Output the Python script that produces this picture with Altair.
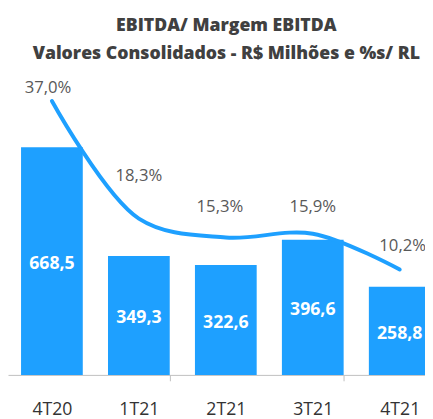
import altair as alt
import pandas as pd

categories = ["4T20", "1T21", "2T21", "3T21", "4T21"]
ebitda = [668.5, 349.3, 322.6, 396.6, 258.8]
margem = [37.0, 18.3, 15.3, 15.9, 10.2]
ebitda_labels = ["668,5", "349,3", "322,6", "396,6", "258,8"]
margem_labels = ["37,0%", "18,3%", "15,3%", "15,9%", "10,2%"]

# label offsets (styling) for percent labels, per point
pct_dx = [-4, 0, -6, 0, 3]
pct_dy = [-13, -43, -31, -27, -24]

df = pd.DataFrame({
    "cat": categories,
    "ebitda": ebitda,
    "margem": margem,
    "elab": ebitda_labels,
    "mlab": margem_labels,
})
df["half"] = df["ebitda"] / 2

BLUE = "#1ea0ff"
FONT = "Open Sans"

tick_test = (
    "(datum.index > 0.22 && datum.index < 0.28) || "
    "(datum.index > 0.38 && datum.index < 0.42) || "
    "(datum.index > 0.72 && datum.index < 0.82)"
)

x = alt.X(
    "cat:N",
    sort=categories,
    title=None,
    scale=alt.Scale(range=[0, 444], paddingInner=0.29, paddingOuter=0.15),
    axis=alt.Axis(
        labelAngle=0,
        labelFont=FONT,
        labelFontSize=18,
        labelColor="#333333",
        labelPadding=20,
        domainColor="#bfbfbf",
        domainWidth=1,
        ticks=True,
        tickColor="#bfbfbf",
        tickOpacity={"condition": {"test": tick_test, "value": 1}, "value": 0},
        tickSize=6,
        tickWidth=1,
        tickBand="extent",
    ),
)

ybar = alt.Scale(domain=[0, 887], nice=False, zero=True)
yline = alt.Scale(domain=[-6.55, 41.5], nice=False, zero=False)

bars = alt.Chart(df).mark_bar(color=BLUE).encode(
    x=x,
    y=alt.Y("ebitda:Q", scale=ybar, axis=None),
)

bar_text = alt.Chart(df).mark_text(
    color="white", font=FONT, fontSize=18, fontWeight="bold", baseline="middle", dy=3
).encode(
    x=alt.X("cat:N", sort=categories),
    y=alt.Y("half:Q", scale=ybar, axis=None),
    text="elab:N",
)

line = alt.Chart(df).mark_line(
    color=BLUE, strokeWidth=4, interpolate="catmull-rom", strokeCap="round"
).encode(
    x=alt.X("cat:N", sort=categories),
    y=alt.Y("margem:Q", scale=yline, axis=None),
)

pct_layers = []
for i, c in enumerate(categories):
    pct_layers.append(
        alt.Chart(df[df["cat"] == c]).mark_text(
            color="#595959", font=FONT, fontSize=17, baseline="middle",
            dx=pct_dx[i], dy=pct_dy[i]
        ).encode(
            x=alt.X("cat:N", sort=categories),
            y=alt.Y("margem:Q", scale=yline, axis=None),
            text="mlab:N",
        )
    )

chart = alt.layer(bars, bar_text, line, *pct_layers).resolve_scale(y="independent").properties(
    width=425,
    height=308,
    autosize=alt.AutoSizeParams(type="none"),
    padding={"left": 0, "top": 62, "right": 0, "bottom": 41},
    title=alt.Title(
        ["EBITDA/ Margem EBITDA", "Valores Consolidados - R$ Milhões e %s/ RL"],
        font=FONT,
        fontSize=18,
        fontWeight=800,
        color="#404040",
        lineHeight=28,
        anchor="middle",
        dx=10,
        offset=10,
    ),
).configure_view(stroke=None)

chart.save("out.html", embed_options={"renderer": "svg", "actions": False})
